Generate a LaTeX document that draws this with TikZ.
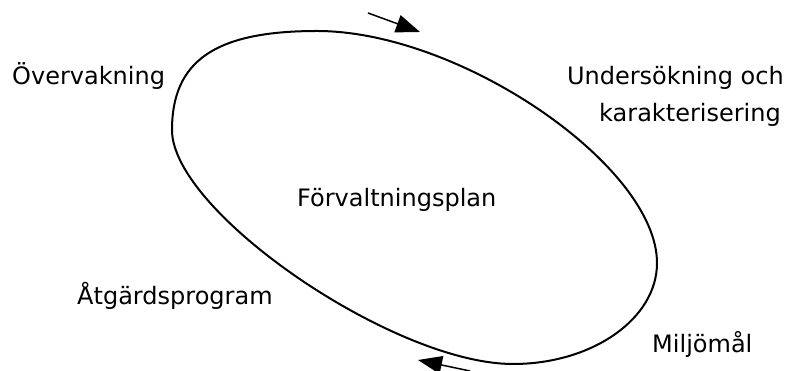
\documentclass[tikz,border=0pt]{standalone}
\usepackage{fontspec}
\setmainfont{DejaVu Sans}
\usetikzlibrary{arrows.meta}
\tikzset{
  lbl/.style={inner sep=0pt,font=\fontsize{24}{28}\selectfont},
  flow/.style={-{Triangle[length=24pt,width=18pt]},line width=1.5pt}
}
\begin{document}
\begin{tikzpicture}[x=1pt,y=1pt]
\useasboundingbox (0,0) rectangle (787,371);

% the cycle, through its four extreme points
\coordinate (l) at (172,241);
\coordinate (t) at (317,340);
\coordinate (r) at (657,108);
\coordinate (b) at (513,7);
\draw[line width=2pt] (l) .. controls (172,310) and (215,340) .. (t)
  .. controls (460,340) and (657,205) .. (r)
  .. controls (657,52) and (592,7) .. (b)
  .. controls (394,7) and (172,159) .. cycle;

\coordinate (t1) at (368,358);
\coordinate (t2) at (420,339);
\coordinate (b1) at (470,0);
\coordinate (b2) at (418,11);
\draw[flow] (t1) -- (t2);
\draw[flow] (b1) -- (b2);

\node[lbl,anchor=base west] (overv) at (12,286) {Övervakning};
\node[lbl,anchor=base east] (unders) at (784,286) {Undersökning och};
\node[lbl,anchor=base east] (karakt) at (781,249) {karakterisering};
\node[lbl,anchor=base west] (plan) at (297,164) {Förvaltningsplan};
\node[lbl,anchor=base west] (atgard) at (77,66) {Åtgärdsprogram};
\node[lbl,anchor=base west] (miljo) at (652,18) {Miljömål};

\end{tikzpicture}
\end{document}
